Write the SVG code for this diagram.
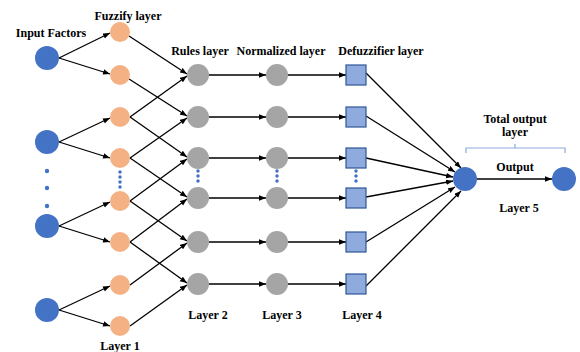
<svg xmlns="http://www.w3.org/2000/svg" width="580" height="352" viewBox="0 0 580 352">
<defs>
<marker id="ah" markerUnits="userSpaceOnUse" markerWidth="8" markerHeight="6" refX="7" refY="2.75" orient="auto">
<path d="M0,0 L7,2.75 L0,5.5 z" fill="#000"/>
</marker>
<style>
.t{font-family:"Liberation Serif","Times New Roman",serif;font-weight:bold;font-size:12px;fill:#000;text-anchor:middle}
.inp{fill:#4472c4}
.fz{fill:#f4b183}
.gr{fill:#a5a5a5}
.df{fill:#8faadc;stroke:#2f5597;stroke-width:1.2}
.c line{stroke:#000;stroke-width:1.3;marker-end:url(#ah)}
.dots{stroke:#4472c4;stroke-width:3.5;stroke-linecap:round;stroke-dasharray:0 5;fill:none}
.br{fill:none;stroke:#8eaadb;stroke-width:1.2}
</style>
</defs>
<rect width="580" height="352" fill="#fff"/>

<g id="labels">
<text class="t" x="51" y="37">Input Factors</text>
<text class="t" x="128" y="20">Fuzzify layer</text>
<text class="t" x="200" y="55">Rules layer</text>
<text class="t" x="281" y="55">Normalized layer</text>
<text class="t" x="381" y="55">Defuzzifier layer</text>
<text class="t" x="120" y="350">Layer 1</text>
<text class="t" x="208" y="319">Layer 2</text>
<text class="t" x="282" y="319">Layer 3</text>
<text class="t" x="362" y="319">Layer 4</text>
<text class="t" x="515" y="123">Total output</text>
<text class="t" x="515" y="136">layer</text>
<text class="t" x="515" y="171">Output</text>
<text class="t" x="519" y="212">Layer 5</text>
<path class="br" d="M466,153 V148 H565 V153 M515,148 V144"/>
</g>

<g id="connectors" class="c">
<!-- input to fuzzify -->
<line x1="59" y1="58" x2="110" y2="33"/>
<line x1="59" y1="58" x2="110" y2="74"/>
<line x1="59" y1="142" x2="110" y2="118"/>
<line x1="59" y1="142" x2="110" y2="158"/>
<line x1="59" y1="226" x2="110" y2="202"/>
<line x1="59" y1="226" x2="110" y2="242"/>
<line x1="59" y1="310" x2="110" y2="286"/>
<line x1="59" y1="310" x2="110" y2="326"/>
<!-- fuzzify to rules -->
<line x1="129" y1="36" x2="187" y2="74"/>
<line x1="130" y1="117" x2="187" y2="76"/>
<line x1="129" y1="79" x2="187" y2="116"/>
<line x1="130" y1="158" x2="187" y2="118"/>
<line x1="130" y1="117" x2="187" y2="157"/>
<line x1="130" y1="201" x2="187" y2="159"/>
<line x1="130" y1="158" x2="187" y2="197"/>
<line x1="130" y1="242" x2="187" y2="199"/>
<line x1="130" y1="201" x2="187" y2="241"/>
<line x1="130" y1="285" x2="187" y2="243"/>
<line x1="130" y1="242" x2="187" y2="283"/>
<line x1="130" y1="326" x2="187" y2="285"/>
<!-- rules to normalized -->
<line x1="209" y1="75" x2="266" y2="75"/>
<line x1="209" y1="117" x2="266" y2="117"/>
<line x1="209" y1="158" x2="266" y2="158"/>
<line x1="209" y1="198" x2="266" y2="198"/>
<line x1="209" y1="242" x2="266" y2="242"/>
<line x1="209" y1="284" x2="266" y2="284"/>
<!-- normalized to defuzzifier -->
<line x1="288" y1="75" x2="346" y2="75"/>
<line x1="288" y1="117" x2="346" y2="117"/>
<line x1="288" y1="158" x2="346" y2="158"/>
<line x1="288" y1="198" x2="346" y2="198"/>
<line x1="288" y1="242" x2="346" y2="242"/>
<line x1="288" y1="284" x2="346" y2="284"/>
<!-- defuzzifier to output -->
<line x1="366" y1="73" x2="461" y2="168"/>
<line x1="366" y1="116" x2="455" y2="172"/>
<line x1="366" y1="158" x2="453" y2="177"/>
<line x1="366" y1="197" x2="453" y2="181"/>
<line x1="366" y1="242" x2="455" y2="187"/>
<line x1="366" y1="286" x2="461" y2="191"/>
<!-- output -->
<line x1="477" y1="179" x2="552" y2="179"/>
</g>

<g id="input-nodes">
<circle id="in1" class="inp" cx="47" cy="58" r="12"/>
<circle id="in2" class="inp" cx="47" cy="142" r="12"/>
<circle id="in3" class="inp" cx="47" cy="226" r="12"/>
<circle id="in4" class="inp" cx="47" cy="310" r="12"/>
<g id="in-dots" class="inp">
<circle cx="47" cy="171" r="2.2"/>
<circle cx="47" cy="188" r="2.2"/>
<circle cx="47" cy="206" r="2.2"/>
</g>
</g>

<g id="fuzzify-nodes">
<circle id="f1" class="fz" cx="120" cy="32" r="10"/>
<circle id="f2" class="fz" cx="120" cy="75" r="10"/>
<circle id="f3" class="fz" cx="120" cy="117" r="10"/>
<circle id="f4" class="fz" cx="120" cy="158" r="10"/>
<circle id="f5" class="fz" cx="120" cy="201" r="10"/>
<circle id="f6" class="fz" cx="120" cy="242" r="10"/>
<circle id="f7" class="fz" cx="120" cy="285" r="10"/>
<circle id="f8" class="fz" cx="120" cy="326" r="10"/>
<path class="dots" d="M120,172 V188"/>
</g>

<g id="rules-nodes">
<circle id="r1" class="gr" cx="198" cy="75" r="11"/>
<circle id="r2" class="gr" cx="198" cy="117" r="11"/>
<circle id="r3" class="gr" cx="198" cy="158" r="11"/>
<circle id="r4" class="gr" cx="198" cy="198" r="11"/>
<circle id="r5" class="gr" cx="198" cy="242" r="11"/>
<circle id="r6" class="gr" cx="198" cy="284" r="11"/>
<path class="dots" d="M198,171 V186"/>
</g>

<g id="normalized-nodes">
<circle id="n1" class="gr" cx="277" cy="75" r="11"/>
<circle id="n2" class="gr" cx="277" cy="117" r="11"/>
<circle id="n3" class="gr" cx="277" cy="158" r="11"/>
<circle id="n4" class="gr" cx="277" cy="198" r="11"/>
<circle id="n5" class="gr" cx="277" cy="242" r="11"/>
<circle id="n6" class="gr" cx="277" cy="284" r="11"/>
<path class="dots" d="M277,171 V186"/>
</g>

<g id="defuzzifier-nodes">
<rect id="d1" class="df" x="346" y="65" width="20" height="20"/>
<rect id="d2" class="df" x="346" y="107" width="20" height="20"/>
<rect id="d3" class="df" x="346" y="148" width="20" height="20"/>
<rect id="d4" class="df" x="346" y="188" width="20" height="20"/>
<rect id="d5" class="df" x="346" y="232" width="20" height="20"/>
<rect id="d6" class="df" x="346" y="274" width="20" height="20"/>
<path class="dots" d="M356,171 V186"/>
</g>

<g id="output-node">
<circle class="inp" cx="465" cy="179" r="12"/>
</g>
<g id="final-node">
<circle class="inp" cx="564" cy="179" r="12"/>
</g>
</svg>
